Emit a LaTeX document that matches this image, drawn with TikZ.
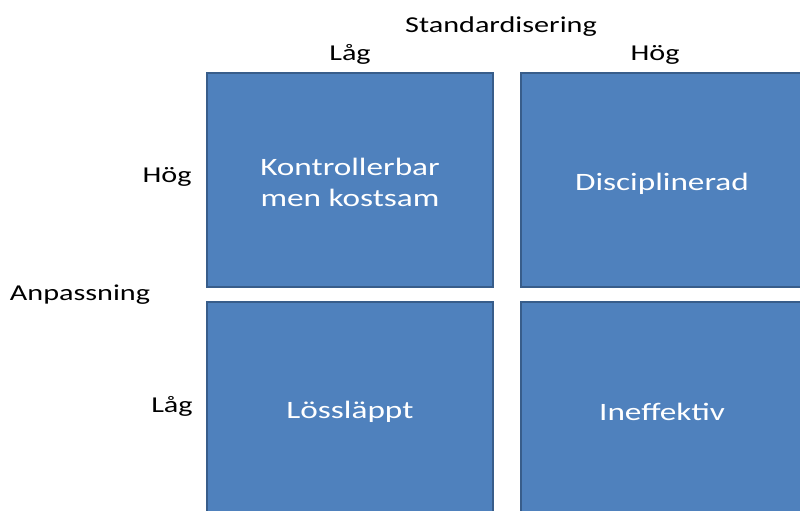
\documentclass[tikz,border=0pt]{standalone}
\usepackage{fontspec}
\setmainfont{Carlito}[FakeStretch=1.33]
\definecolor{boxfill}{HTML}{4F81BD}
\definecolor{boxline}{HTML}{385D8A}
\begin{document}
\begin{tikzpicture}[x=1pt,y=-1pt,
  cell/.style={draw=boxline,line width=2.2pt,fill=boxfill},
  celltext/.style={text=white,font=\fontsize{25}{31}\selectfont,align=center},
  lbl/.style={font=\fontsize{22.7}{26}\selectfont,text=black}]
\useasboundingbox (0,0) rectangle (800,511);
\clip (0,0) rectangle (800,511);
\draw[cell] (207,73) rectangle (493,287);
\draw[cell] (521,73) rectangle (810,287);
\draw[cell] (207,302) rectangle (493,520);
\draw[cell] (521,302) rectangle (810,520);
\node[celltext] (tl) at (350,182.5) {Kontrollerbar\\men kostsam};
\node[celltext] (tr) at (662,183.5) {Disciplinerad};
\node[celltext] (bl) at (350,411.5) {Lössläppt};
\node[celltext] (br) at (662,411.5) {Ineffektiv};
\node[lbl] (std) at (501,26.5) {Standardisering};
\node[lbl] (xlow) at (350,54.5) {Låg};
\node[lbl] (xhigh) at (655,54.5) {Hög};
\node[lbl] (yhigh) at (167,176.5) {Hög};
\node[lbl] (anp) at (80,294.5) {Anpassning};
\node[lbl] (ylow) at (172,406.5) {Låg};
\end{tikzpicture}
\end{document}
